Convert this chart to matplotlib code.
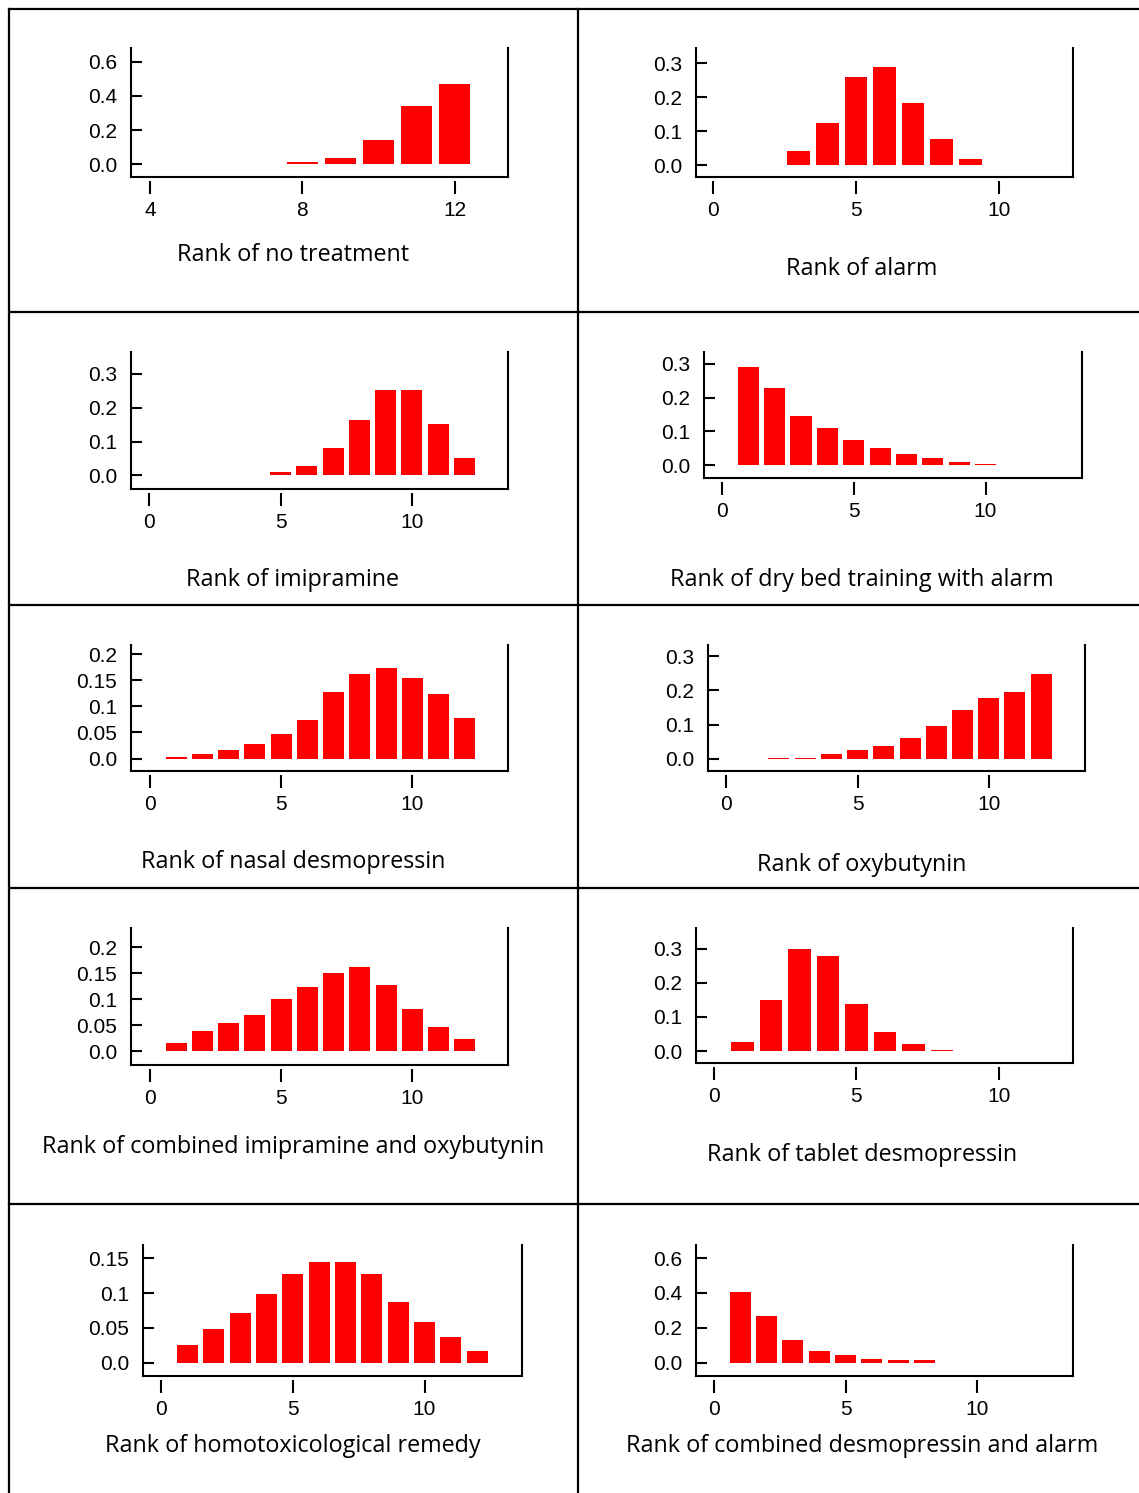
import numpy as np
import matplotlib
matplotlib.use("Agg")
from matplotlib import pyplot as plt
from matplotlib.lines import Line2D

# rank probabilities for each treatment (rank 1 = best)
ranks = np.arange(1, 13)
no_treatment = [0, 0, 0, 0, 0, 0, 0, 0.014, 0.037, 0.143, 0.343, 0.47]
alarm = [0, 0.002, 0.041, 0.124, 0.259, 0.288, 0.182, 0.076, 0.018, 0.002, 0, 0]
imipramine = [0, 0, 0, 0, 0.011, 0.028, 0.081, 0.164, 0.252, 0.252, 0.152, 0.052]
dry_bed_alarm = [0.29, 0.228, 0.146, 0.111, 0.075, 0.052, 0.034, 0.022, 0.011, 0.005, 0, 0]
nasal_desmo = [0.003, 0.008, 0.016, 0.028, 0.047, 0.074, 0.128, 0.162, 0.174, 0.154, 0.124, 0.078]
oxybutynin = [0, 0.002, 0.002, 0.013, 0.025, 0.036, 0.06, 0.095, 0.142, 0.177, 0.195, 0.248]
imip_oxy = [0.016, 0.039, 0.054, 0.07, 0.1, 0.124, 0.151, 0.162, 0.128, 0.081, 0.047, 0.024]
tablet_desmo = [0.027, 0.15, 0.3, 0.277, 0.138, 0.056, 0.021, 0.004, 0, 0, 0, 0]
homotox = [0.026, 0.049, 0.072, 0.098, 0.127, 0.144, 0.144, 0.127, 0.087, 0.058, 0.0375, 0.017]
desmo_alarm = [0.404, 0.265, 0.127, 0.069, 0.046, 0.023, 0.013, 0.013, 0, 0, 0, 0]

titles = ["Rank of no treatment", "Rank of alarm", "Rank of imipramine",
          "Rank of dry bed training with alarm", "Rank of nasal desmopressin",
          "Rank of oxybutynin", "Rank of combined imipramine and oxybutynin",
          "Rank of tablet desmopressin", "Rank of homotoxicological remedy",
          "Rank of combined desmopressin and alarm"]
series = [no_treatment, alarm, imipramine, dry_bed_alarm, nasal_desmo,
          oxybutynin, imip_oxy, tablet_desmo, homotox, desmo_alarm]

yt_06 = ([0, 0.2, 0.4, 0.6], ["0.0", "0.2", "0.4", "0.6"])
yt_03 = ([0, 0.1, 0.2, 0.3], ["0.0", "0.1", "0.2", "0.3"])
yt_02 = ([0, 0.05, 0.1, 0.15, 0.2], ["0.0", "0.05", "0.1", "0.15", "0.2"])
yt_015 = ([0, 0.05, 0.1, 0.15], ["0.0", "0.05", "0.1", "0.15"])
yticks = [yt_06, yt_03, yt_03, yt_03, yt_02, yt_03, yt_02, yt_03, yt_015, yt_06]
xticks = [[4, 8, 12]] + [[0, 5, 10]] * 9

plt.rcParams["font.family"] = ["Liberation Sans", "DejaVu Sans"]

W, H = 1139, 1493
fig = plt.figure(figsize=(W / 100, H / 100), dpi=100)

# pixel boxes: left, right, top, bottom, xlim, ylim, title x, title y
layout = [
    (131, 508, 48, 177, (3.5, 13.4), (-0.075, 0.68), 293, 255),
    (696, 1073, 48, 177, (-0.6, 12.6), (-0.034, 0.344), 862, 269),
    (131, 508, 352, 489, (-0.7, 13.66), (-0.04, 0.364), 293, 580),
    (704, 1082, 352, 478, (-0.68, 13.66), (-0.037, 0.334), 862, 580),
    (131, 508, 645, 771, (-0.72, 13.64), (-0.024, 0.218), 293, 862),
    (708, 1085, 645, 771, (-0.7, 13.67), (-0.036, 0.333), 862, 865),
    (131, 508, 928, 1065, (-0.72, 13.64), (-0.026, 0.237), 293, 1147),
    (696, 1073, 928, 1063, (-0.63, 12.6), (-0.035, 0.36), 862, 1155),
    (143, 522, 1245, 1376, (-0.69, 13.7), (-0.019, 0.169), 293, 1446),
    (696, 1073, 1245, 1376, (-0.68, 13.64), (-0.077, 0.675), 862, 1446),
]

for i, (l, r, t, b, xl, yl, tx, ty) in enumerate(layout):
    ax = fig.add_axes([l / W, 1 - b / H, (r - l) / W, (b - t) / H])
    # bottom ticks sit a little below the axis line
    ax.spines["bottom"].set_position(("outward", 3))
    ax.spines["bottom"].set_visible(False)
    ax.spines["top"].set_visible(False)
    for s in ("left", "right"):
        ax.spines[s].set_linewidth(1.5)

    ax.bar(ranks, series[i], width=0.8, color="#ff0000")
    ax.plot([0, 1], [0, 0], transform=ax.transAxes, color="k", lw=1.5,
            clip_on=False, solid_capstyle="projecting")
    ax.set_xlim(*xl)
    ax.set_ylim(*yl)
    ax.set_xticks(xticks[i], [str(v) for v in xticks[i]])
    ax.set_yticks(yticks[i][0], yticks[i][1])
    ax.tick_params(axis="y", direction="in", length=8, width=1.5, pad=10,
                   labelsize=15)
    ax.tick_params(axis="x", direction="out", length=9, width=1.5, pad=5,
                   labelsize=15)
    fig.text(tx / W, 1 - ty / H, titles[i], ha="center", va="center",
             fontsize=16.8, family="Open Sans")

# cell borders
for y in (9, 312, 605, 888, 1204):
    fig.add_artist(Line2D([9 / W, 1], [1 - y / H] * 2, color="k", lw=1.6))
for x in (9, 578):
    fig.add_artist(Line2D([x / W] * 2, [1 - 9 / H, 0], color="k", lw=1.6))

fig.savefig("out.png", dpi=100)
